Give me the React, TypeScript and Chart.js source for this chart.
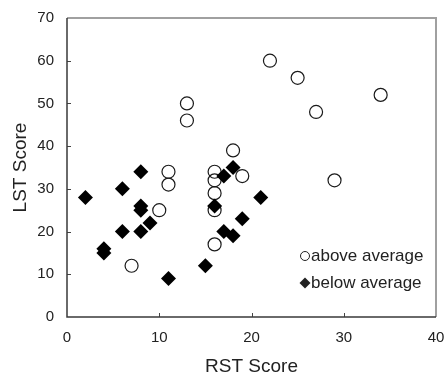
import React, { useEffect, useRef } from "react";
import { Chart, registerables } from "chart.js";

Chart.register(...registerables);

const aboveX = [7, 10, 11, 11, 13, 13, 16, 16, 16, 16, 16, 18, 19, 22, 25, 27, 29, 34];
const aboveY = [12, 25, 34, 31, 50, 46, 34, 32, 29, 25, 17, 39, 33, 60, 56, 48, 32, 52];
const belowX = [2, 4, 4, 6, 6, 8, 8, 8, 8, 9, 11, 15, 16, 17, 18, 17, 18, 19, 21];
const belowY = [28, 16, 15, 30, 20, 34, 26, 25, 20, 22, 9, 12, 26, 33, 35, 20, 19, 23, 28];
const xTicks = [0, 10, 20, 30, 40];
const yTicks = [0, 10, 20, 30, 40, 50, 60, 70];
const legendLabels = ["above average", "below average"];

const FONT = "'Liberation Sans', Arial, sans-serif";
const TEXT = "#222";

const framePlugin = {
  id: "frame",
  afterDatasetsDraw(chart: any) {
    const { ctx, chartArea, scales } = chart;
    const { left, right, top, bottom } = chartArea;
    ctx.save();
    // inner tick marks
    ctx.strokeStyle = "#444";
    ctx.lineWidth = 1;
    xTicks.slice(1, -1).forEach((v) => {
      const x = Math.round(scales.x.getPixelForValue(v)) + 0.5;
      ctx.beginPath();
      ctx.moveTo(x, bottom);
      ctx.lineTo(x, bottom - 4);
      ctx.stroke();
    });
    yTicks.slice(1, -1).forEach((v) => {
      const y = Math.round(scales.y.getPixelForValue(v)) + 0.5;
      ctx.beginPath();
      ctx.moveTo(left, y);
      ctx.lineTo(left + 4, y);
      ctx.stroke();
    });
    // top & right border (grey)
    ctx.strokeStyle = "#a0a0a0";
    ctx.lineWidth = 2;
    ctx.beginPath();
    ctx.moveTo(left, top);
    ctx.lineTo(right, top);
    ctx.lineTo(right, bottom);
    ctx.stroke();
    // left & bottom axis (dark)
    ctx.strokeStyle = "#3a3a3a";
    ctx.lineWidth = 1.5;
    ctx.beginPath();
    ctx.moveTo(left, top);
    ctx.lineTo(left, bottom);
    ctx.lineTo(right, bottom);
    ctx.stroke();

    // legend
    const lx = 305;
    const ly1 = 256;
    const ly2 = 283;
    ctx.font = `17px ${FONT}`;
    ctx.fillStyle = TEXT;
    ctx.textBaseline = "middle";
    ctx.textAlign = "left";
    ctx.strokeStyle = "#222";
    ctx.lineWidth = 1;
    ctx.beginPath();
    ctx.arc(lx, ly1, 4.5, 0, Math.PI * 2);
    ctx.stroke();
    ctx.fillText(legendLabels[0], lx + 6, ly1);
    ctx.beginPath();
    ctx.moveTo(lx, ly2 - 5.5);
    ctx.lineTo(lx + 5.5, ly2);
    ctx.lineTo(lx, ly2 + 5.5);
    ctx.lineTo(lx - 5.5, ly2);
    ctx.closePath();
    ctx.fill();
    ctx.fillText(legendLabels[1], lx + 6, ly2);
    ctx.restore();
  },
};

export default function App() {
  const ref = useRef<HTMLCanvasElement>(null);
  useEffect(() => {
    if (!ref.current) return;
    const chart = new Chart(ref.current, {
      type: "scatter",
      data: {
        datasets: [
          {
            label: legendLabels[0],
            data: aboveX.map((x, i) => ({ x, y: aboveY[i] })),
            pointStyle: "circle",
            pointRadius: 6.5,
            borderColor: "#1a1a1a",
            borderWidth: 1.2,
            backgroundColor: "rgba(0,0,0,0)",
            order: 1,
          },
          {
            label: legendLabels[1],
            data: belowX.map((x, i) => ({ x, y: belowY[i] })),
            pointStyle: "rectRot",
            pointRadius: 7.5,
            borderColor: "#000",
            borderWidth: 0,
            backgroundColor: "#000",
            order: 0,
          },
        ],
      },
      options: {
        animation: false,
        responsive: false,
        devicePixelRatio: 1,
        layout: { padding: { top: 18, right: 12, left: 0, bottom: 0 } },
        plugins: {
          legend: { display: false },
          tooltip: { enabled: false },
        },
        scales: {
          x: {
            type: "linear",
            min: 0,
            max: 40,
            afterBuildTicks: (s: any) => {
              s.ticks = xTicks.map((v) => ({ value: v }));
            },
            afterFit: (s: any) => {
              s.height = 59;
              s.paddingLeft = 0;
              s.paddingRight = 0;
            },
            grid: { display: false, drawTicks: false },
            border: { display: false },
            ticks: {
              padding: 12,
              color: TEXT,
              font: { family: FONT, size: 15 },
            },
            title: {
              display: true,
              text: "RST Score",
              color: TEXT,
              font: { family: FONT, size: 19 },
              padding: { top: 0, bottom: -2 },
            },
          },
          y: {
            type: "linear",
            min: 0,
            max: 70,
            afterBuildTicks: (s: any) => {
              s.ticks = yTicks.map((v) => ({ value: v }));
            },
            afterFit: (s: any) => {
              s.width = 67;
              s.paddingTop = 0;
              s.paddingBottom = 0;
            },
            grid: { display: false, drawTicks: false },
            border: { display: false },
            ticks: {
              padding: 13,
              color: TEXT,
              font: { family: FONT, size: 15 },
            },
            title: {
              display: true,
              text: "LST Score",
              color: TEXT,
              font: { family: FONT, size: 19 },
              padding: { top: 9, bottom: 0 },
            },
          },
        },
      },
      plugins: [framePlugin],
    });
    return () => chart.destroy();
  }, []);
  return (
    <div style={{ position: "absolute", left: 0, top: 0, width: 448, height: 376, background: "#fff" }}>
      <canvas ref={ref} width={448} height={376} style={{ display: "block" }} />
    </div>
  );
}
